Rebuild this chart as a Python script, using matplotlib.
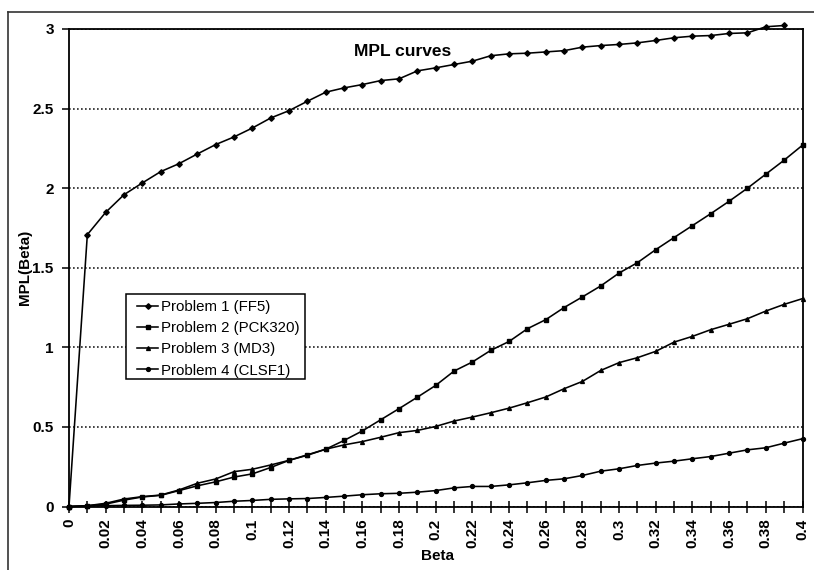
import numpy as np
import matplotlib
matplotlib.use("Agg")
import matplotlib.pyplot as plt
from matplotlib.lines import Line2D
from matplotlib.patches import Rectangle

plt.rcParams['font.family'] = ['Liberation Sans', 'DejaVu Sans']

# Beta grid (0 .. 0.40 in steps of 0.01)
beta = [round(0.01 * i, 2) for i in range(41)]

# MPL(Beta) values for each test problem
mpl_p1 = [0, 1.708, 1.848, 1.959, 2.033, 2.104, 2.154, 2.215, 2.274, 2.322,
          2.378, 2.441, 2.487, 2.546, 2.603, 2.630, 2.651, 2.676, 2.687, 2.737,
          2.756, 2.777, 2.798, 2.832, 2.844, 2.848, 2.856, 2.864, 2.886, 2.896,
          2.903, 2.913, 2.928, 2.945, 2.955, 2.959, 2.972, 2.976, 3.014, 3.022]
mpl_p2 = [0, 0.005, 0.015, 0.040, 0.060, 0.070, 0.100, 0.130, 0.155, 0.185,
          0.205, 0.245, 0.290, 0.325, 0.360, 0.415, 0.475, 0.545, 0.615, 0.687,
          0.761, 0.851, 0.908, 0.981, 1.037, 1.117, 1.174, 1.250, 1.317, 1.386,
          1.467, 1.532, 1.614, 1.690, 1.765, 1.840, 1.918, 2.000, 2.088, 2.176,
          2.270]
mpl_p3 = [0, 0.005, 0.020, 0.047, 0.062, 0.072, 0.104, 0.146, 0.173, 0.219,
          0.234, 0.261, 0.290, 0.322, 0.360, 0.387, 0.408, 0.435, 0.464, 0.478,
          0.503, 0.537, 0.562, 0.589, 0.618, 0.652, 0.688, 0.740, 0.786, 0.855,
          0.904, 0.935, 0.975, 1.033, 1.069, 1.111, 1.145, 1.180, 1.228, 1.270,
          1.306]
mpl_p4 = [0, 0.003, 0.005, 0.007, 0.008, 0.010, 0.016, 0.020, 0.025, 0.033,
          0.038, 0.045, 0.048, 0.050, 0.057, 0.065, 0.074, 0.080, 0.083, 0.090,
          0.100, 0.117, 0.126, 0.126, 0.136, 0.149, 0.164, 0.174, 0.195, 0.222,
          0.237, 0.258, 0.273, 0.285, 0.300, 0.314, 0.335, 0.356, 0.369, 0.398,
          0.426]

labels = ["Problem 1 (FF5)", "Problem 2 (PCK320)", "Problem 3 (MD3)", "Problem 4 (CLSF1)"]
markers = ["D", "s", "^", "o"]
series = [mpl_p1, mpl_p2, mpl_p3, mpl_p4]

W, H = 814, 570
fig = plt.figure(figsize=(W / 100, H / 100), dpi=100)

# plot area in pixel coordinates
left, right, top, bottom = 69, 802.5, 29, 506.5
ax = fig.add_axes([left / W, 1 - bottom / H, (right - left) / W, (bottom - top) / H])

for vals, lab, mk in zip(series, labels, markers):
    x = beta[:len(vals)]
    ax.plot(x, vals, color="black", lw=1.15, marker=mk, ms=2.8,
            markerfacecolor="black", markeredgecolor="black",
            label=lab, clip_on=False, zorder=3)

ax.set_xlim(0, 0.4)
ax.set_ylim(0, 3)

# category-style x axis: tick every 0.01, label every 0.02
ax.set_xticks(beta)
ax.set_xticklabels([("%g" % b if i % 2 == 0 else "") for i, b in enumerate(beta)],
                   rotation=90, fontsize=11, fontweight="bold")
ax.set_yticks([0, 0.5, 1, 1.5, 2, 2.5, 3])
ax.set_yticklabels(["0", "0.5", "1", "1.5", "2", "2.5", "3"], fontsize=11, fontweight="bold")
ax.tick_params(axis="x", direction="inout", length=9, width=1.1, pad=4)
ax.tick_params(axis="y", direction="out", length=5, width=1.1, pad=6)

ax.yaxis.grid(True, color="#222222", linestyle=(0, (1, 1.4)), linewidth=1.2)
ax.set_axisbelow(True)
for sp in ax.spines.values():
    sp.set_linewidth(1.3)
    sp.set_color("black")

fig.text(438 / W, 1 - 556 / H, "Beta", ha="center", va="center",
         fontsize=11, fontweight="bold")
fig.text(25 / W, 1 - 267 / H, "MPL(Beta)", ha="center", va="center",
         rotation=90, fontsize=11, fontweight="bold")
fig.text(403 / W, 1 - 52 / H, "MPL curves", ha="center", va="center",
         fontsize=12.5, fontweight="bold")

# legend entries without their own frame; the box is drawn separately
leg = ax.legend(loc="upper left", bbox_to_anchor=(137 / W, 1 - 300 / H),
                bbox_transform=fig.transFigure, fontsize=10.8, frameon=False,
                handlelength=1.4, handletextpad=0.2, labelspacing=0.48,
                borderpad=0.0, borderaxespad=0)
leg.set_zorder(6)
box = Rectangle((126 / W, 1 - 379 / H), 179 / W, 85 / H,
                transform=fig.transFigure, facecolor="white",
                edgecolor="black", lw=1.1, zorder=5, clip_on=False)
ax.add_artist(box)

# outer chart frame (left and top edges)
fig.add_artist(Line2D([8 / W, 8 / W], [0, 1 - 12 / H], transform=fig.transFigure,
                      color="#333333", lw=1.2))
fig.add_artist(Line2D([8 / W, 1], [1 - 12 / H, 1 - 12 / H], transform=fig.transFigure,
                      color="#333333", lw=1.2))

fig.savefig("out.png", dpi=100)
